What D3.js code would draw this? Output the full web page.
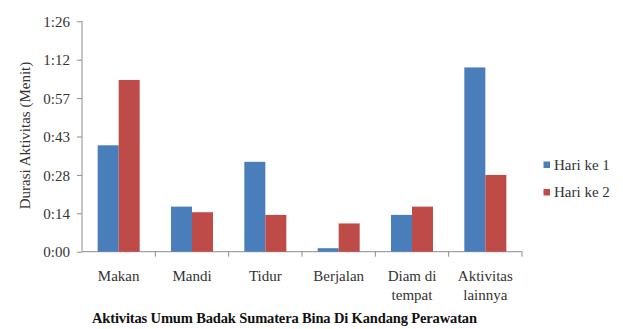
<!DOCTYPE html>
<html>
<head>
<meta charset="utf-8">
<script src="https://cdn.jsdelivr.net/npm/d3@7"></script>
<style>
  html, body { margin: 0; padding: 0; background: #fff; }
  svg { display: block; }
</style>
</head>
<body>
<svg id="chart" width="623" height="329"></svg>
<script>
// Activity categories (second line where the label wraps)
const categories = ["Makan", "Mandi", "Tidur", "Berjalan", "Diam di\ntempat", "Aktivitas\nlainnya"];
const seriesNames = ["Hari ke 1", "Hari ke 2"];
// Duration per activity, in minutes
const hariKe1 = [39.9, 16.9, 33.7, 1.3, 13.8, 69.1];
const hariKe2 = [64.4, 14.8, 13.8, 10.6, 16.9, 28.8];
// Axis ticks in minutes (major unit of 0.01 day = 14.4 min)
const yTicks = [0, 14.4, 28.8, 43.2, 57.6, 72, 86.4];
const colors = ["#4a7ebb", "#be4b48"];

const FONT = "'Liberation Serif', 'Times New Roman', 'DejaVu Serif', serif";
const TEXT = "#333";

const svg = d3.select("#chart").attr("font-family", FONT);
const margin = { left: 82, right: 101, top: 21.3, bottom: 77.3 };
const W = 623, H = 329;

const x = d3.scaleBand()
  .domain(categories)
  .range([margin.left, W - margin.right])
  .paddingInner(0.427)
  .paddingOuter(0.2135);
const x1 = d3.scaleBand().domain(seriesNames).range([0, x.bandwidth()]);
const y = d3.scaleLinear().domain([0, 86.4]).range([H - margin.bottom, margin.top]);

const fmt = m => {
  const t = Math.floor(m + 1e-6);
  return Math.floor(t / 60) + ":" + String(t % 60).padStart(2, "0");
};

// Y axis
const yAxis = svg.append("g")
  .attr("transform", `translate(${margin.left},0)`)
  .call(d3.axisLeft(y).tickValues(yTicks).tickFormat(fmt).tickSize(5).tickPadding(7));
yAxis.attr("font-family", FONT).attr("font-size", 15);
yAxis.select(".domain").attr("stroke", "#8c8c8c").attr("d", `M0,${y(0)}V${y(86.4)}`);
yAxis.selectAll(".tick line").attr("stroke", "#8c8c8c");
yAxis.selectAll(".tick text").attr("fill", TEXT).attr("dy", "0.34em");

// X axis baseline with boundary tick marks
const xg = svg.append("g");
xg.append("line")
  .attr("x1", margin.left).attr("x2", W - margin.right)
  .attr("y1", y(0)).attr("y2", y(0))
  .attr("stroke", "#8c8c8c");
const bounds = categories.map(c => x(c) - x.step() * x.paddingOuter())
  .concat([W - margin.right]);
xg.selectAll("line.bt").data(bounds.slice(1)).join("line")
  .attr("class", "bt")
  .attr("x1", d => d).attr("x2", d => d)
  .attr("y1", y(0)).attr("y2", y(0) + 5)
  .attr("stroke", "#8c8c8c");

// Category labels
categories.forEach(c => {
  const cx = x(c) + x.bandwidth() / 2;
  const t = svg.append("text")
    .attr("x", cx)
    .attr("y", 281)
    .attr("text-anchor", "middle")
    .attr("fill", TEXT)
    .attr("font-size", 15);
  c.split("\n").forEach((l, i) => {
    t.append("tspan").attr("x", cx).attr("dy", i === 0 ? 0 : 19).text(l);
  });
});

// Bars
const data = [hariKe1, hariKe2];
data.forEach((vals, si) => {
  svg.append("g").selectAll("rect").data(vals).join("rect")
    .attr("x", (d, i) => x(categories[i]) + x1(seriesNames[si]))
    .attr("width", x1.bandwidth())
    .attr("y", d => y(d))
    .attr("height", d => y(0) - y(d))
    .attr("fill", colors[si]);
});

// Y axis title
svg.append("text")
  .attr("transform", `translate(30,${(y(0) + y(86.4)) / 2 - 1}) rotate(-90)`)
  .attr("text-anchor", "middle")
  .attr("fill", TEXT)
  .attr("font-size", 15)
  .text("Durasi Aktivitas (Menit)");

// X axis title
svg.append("text")
  .attr("x", 92)
  .attr("y", 323)
  .attr("fill", "#111")
  .attr("font-size", 14.5)
  .attr("font-weight", "bold")
  .attr("textLength", 385)
  .attr("lengthAdjust", "spacing")
  .text("Aktivitas Umum Badak Sumatera Bina Di Kandang Perawatan");

// Legend
const legend = svg.append("g");
seriesNames.forEach((s, i) => {
  const ly = 164.5 + i * 27.5;
  legend.append("rect")
    .attr("x", 543.5).attr("y", ly - 3)
    .attr("width", 6.5).attr("height", 6.5)
    .attr("fill", colors[i]);
  legend.append("text")
    .attr("x", 554).attr("y", ly + 5)
    .attr("fill", TEXT)
    .attr("font-size", 15)
    .text(s);
});
</script>
</body>
</html>
